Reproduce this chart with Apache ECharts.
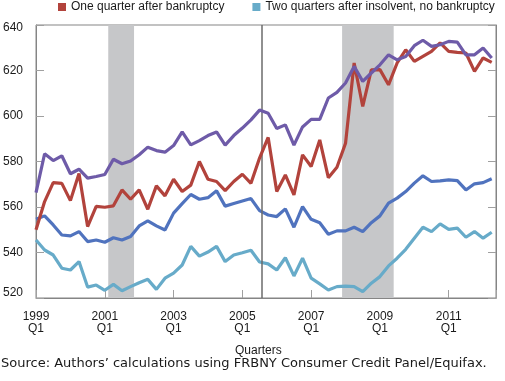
<!DOCTYPE html>
<html><head><meta charset="utf-8">
<script src="https://cdn.jsdelivr.net/npm/echarts@6/dist/echarts.min.js"></script>
<style>html,body{margin:0;padding:0;background:#fff}#c{width:505px;height:381px}</style>
</head><body><div id="c"></div>
<script>
// Quarters 1999Q1 .. 2012Q2 (index 0..53)
const tickLabels = ['1999\nQ1','2001\nQ1','2003\nQ1','2005\nQ1','2007\nQ1','2009\nQ1','2011\nQ1'];
const legendNames = ['One quarter after bankruptcy', 'Two quarters after insolvent, no bankruptcy'];

const purpleValues = [566.3,583.4,580.4,582.5,574.6,576.6,572.7,573.4,574.3,581,579,580.2,583,586.3,584.8,584.1,587,593,587.3,589.2,591.4,593,587.2,591.4,594.7,598.3,602.6,601.2,594.5,596.1,587.2,595.2,598.5,598.5,607.9,610.4,614.5,621.8,615.2,618.9,622.5,626.9,624.7,626.2,630.9,633.3,630.6,631.3,632.8,632.5,626.9,626.9,629.9,625.5];
const redValues = [550,562.4,570.7,570.4,562.8,574.7,551.4,560.3,559.9,560.5,567.5,563.4,567.5,559,569.3,564.9,572.2,566.8,569.6,580,572.2,571.2,567.2,571.2,574.4,570.4,581.5,590.6,566.8,574.1,565.3,582.9,577.8,589.5,572.9,577.5,588,623.3,604.2,620.3,620.4,613.7,623.3,629.1,624,626.2,628.4,632.1,628.4,628,627.7,619.6,625.5,623.6];
const blueValues = [554.6,556.1,552.1,547.7,547.3,549.2,544.8,545.5,544.5,546.5,545.5,547,551.7,553.9,551.7,549.9,557.3,561.5,565.5,563.4,564.1,567.1,560.4,561.5,562.6,563.7,558.4,556.5,555.8,559.2,551.1,560.2,554.6,553.1,548,549.5,549.5,551.1,549.2,553.1,556.1,561.7,563.9,566.8,570.5,573.7,571.2,571.5,571.9,571.6,567.5,570.2,570.7,572.4];
const lightBlueValues = [545.5,541.1,538.9,533.1,532.3,536,524.8,525.7,523.4,526,523.2,525,526.7,528.2,523.8,528.7,530.9,534.5,542.7,538.4,540.2,542.7,536,538.9,539.9,541,535.8,535,532.3,537.7,529.7,537.5,528.7,526.2,523.5,525,525.2,525,522.8,526.5,529.4,534.1,537.5,541.4,546.3,551.1,549.2,552.6,550.2,550.7,546.7,549.2,546.3,548.9];

const recessions = [[8.4, 11.4], [35.6, 41.6]];
const lawChange = 26.2;

const FONT = '"Liberation Sans", Arial, sans-serif';
const pairs = arr => arr.map((v, i) => [i, v]);

const chart = echarts.init(document.getElementById('c'), null, {renderer: 'canvas'});
const tickColor = '#a0a0a0';
const lineSeries = (name, data, color, z) => ({
  name, type: 'line', data: pairs(data), symbol: 'none', z,
  lineStyle: {color, width: 3.2}, itemStyle: {color}, animation: false
});

chart.setOption({
  animation: false,
  textStyle: {fontFamily: FONT},
  grid: {left: 34, right: 9, top: 25, bottom: 83, show: true, borderColor: '#858585', borderWidth: 1, backgroundColor: 'transparent'},
  legend: {
    data: legendNames, left: 58, top: 1, padding: 0, icon: 'rect', itemWidth: 8, itemHeight: 8, itemGap: 28,
    textStyle: {fontSize: 12, color: '#1a1a1a', fontFamily: FONT}
  },
  xAxis: {
    type: 'value', min: 0, max: 53.5, interval: 8,
    axisLine: {show: true, lineStyle: {color: '#858585'}},
    axisTick: {show: true, inside: true, length: 8, lineStyle: {color: tickColor}},
    splitLine: {show: false},
    axisLabel: {
      formatter: v => (v % 8 === 0 ? tickLabels[v / 8] : ''),
      color: '#1a1a1a', fontSize: 12, lineHeight: 12, margin: 13, fontFamily: FONT
    }
  },
  yAxis: [{
    type: 'value', min: 520, max: 640, interval: 20, position: 'left',
    axisLine: {show: true, lineStyle: {color: '#858585'}},
    axisTick: {show: true, inside: true, length: 8, lineStyle: {color: tickColor}},
    splitLine: {show: false},
    axisLabel: {
      formatter: v => (v === 640 ? '{t|640}' : v === 520 ? '{b|520}' : String(v)),
      rich: {t: {padding: [6, 0, 0, 0], fontSize: 12, color: '#1a1a1a'}, b: {padding: [0, 0, 10, 0], fontSize: 12, color: '#1a1a1a'}},
      color: '#1a1a1a', fontSize: 12, margin: 13, fontFamily: FONT
    }
  }, {
    type: 'value', min: 520, max: 640, interval: 20, position: 'right',
    axisLine: {show: true, lineStyle: {color: '#858585'}},
    axisTick: {show: true, inside: true, length: 8, lineStyle: {color: tickColor}},
    splitLine: {show: false}, axisLabel: {show: false}
  }],
  graphic: [
    {type: 'text', left: 235, top: 345, style: {text: 'Quarters', font: '12px ' + FONT, fill: '#1a1a1a'}},
    {type: 'text', left: 1, top: 357, style: {text: 'Source: Authors\u2019 calculations using FRBNY Consumer Credit Panel/Equifax.', font: '13px "DejaVu Sans", sans-serif', fill: '#1a1a1a'}}
  ],
  series: [
    {
      name: 'bands', type: 'line', data: [], z: 1, silent: true,
      markArea: {silent: true, itemStyle: {color: '#c6c7c9'}, label: {show: false},
        data: recessions.map(r => [{xAxis: r[0]}, {xAxis: r[1]}])},
      markLine: {silent: true, symbol: 'none', label: {show: false},
        lineStyle: {color: '#6b6b6b', width: 1.5, type: 'solid'},
        data: [{xAxis: lawChange}]}
    },
    lineSeries('Two quarters after insolvent, no bankruptcy', lightBlueValues, '#67abc9', 3),
    lineSeries('Two quarters after insolvent', blueValues, '#5073be', 4),
    lineSeries('One quarter after bankruptcy', redValues, '#b2433c', 5),
    lineSeries('Before bankruptcy', purpleValues, '#6e5ba8', 6)
  ]
});
</script></body></html>
